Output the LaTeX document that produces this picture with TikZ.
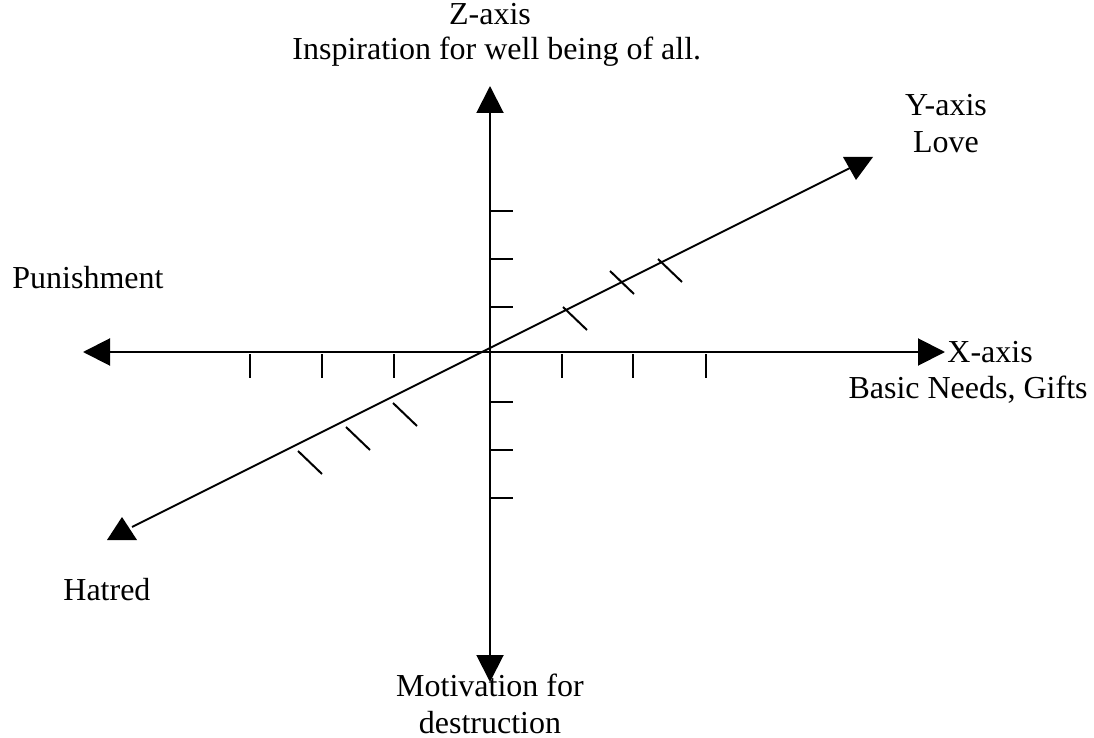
\documentclass[tikz,border=0pt]{standalone}
\usepackage{fontspec}
\setmainfont{Liberation Serif}
\usetikzlibrary{arrows.meta}

\begin{document}
\begin{tikzpicture}[x=0.5pt, y=-0.5pt,
  axis/.style={line width=1pt, -{Triangle[length=13.5pt,width=13.5pt]}},
  tickmark/.style={line width=1pt},
  lab/.style={inner sep=0pt, font=\fontsize{16}{18.5}\selectfont}]
  \useasboundingbox (0,0) rectangle (1094,738);
  % origin and axis ends (pixel grid, y grows downward)
  \coordinate (O) at (490,352);
  \coordinate (xmin) at (83,352);
  \coordinate (xmax) at (945,352);
  \coordinate (zmax) at (490,86);
  \coordinate (zmin) at (490,682);
  \coordinate (ymin) at (132,527);
  \coordinate (ymax) at (850,168);
  % X and Z axes
  \draw[axis] (O) -- (xmin);
  \draw[axis] (O) -- (xmax);
  \draw[axis] (O) -- (zmax);
  \draw[axis] (O) -- (zmin);
  % Y axis: the heads stand upright, not along the line
  \draw[line width=1pt] (ymin) -- (ymax);
  \fill (843,157) -- (873,157) -- (856,180) -- cycle;
  \fill (107,540) -- (137,540) -- (122,517) -- cycle;
  % ticks on X
  \foreach \x in {250,322,394,562,633,706}
    \draw[tickmark] (\x,354) -- (\x,378);
  % ticks on Z
  \foreach \y in {211,259,307,402,450,498}
    \draw[tickmark] (490,\y) -- (513,\y);
  % slanted ticks on Y
  \foreach \x/\y in {563/307, 610/271, 658/259, 393/403, 346/427, 298/451}
    \draw[tickmark] (\x,\y) -- ++(24,23);
  % labels
  \node[lab, anchor=base] (ztitle) at (490,25) {Z-axis};
  \node[lab, anchor=base west] (zdesc) at (292,60) {Inspiration for well being of all.};
  \node[lab, anchor=base] (ytitle) at (946,116) {Y-axis};
  \node[lab, anchor=base] (ydesc) at (946,153) {Love};
  \node[lab, anchor=base west] (xtitle) at (947,362) {X-axis};
  \node[lab, anchor=base east] (xdesc) at (1088,398) {Basic Needs, Gifts};
  \node[lab, anchor=base west] (xneg) at (12,288) {Punishment};
  \node[lab, anchor=base west] (yneg) at (63,600) {Hatred};
  \node[lab, anchor=base] (zneg) at (490,696) {Motivation for};
  \node[lab, anchor=base] (zneg2) at (490,733) {destruction};
\end{tikzpicture}
\end{document}
